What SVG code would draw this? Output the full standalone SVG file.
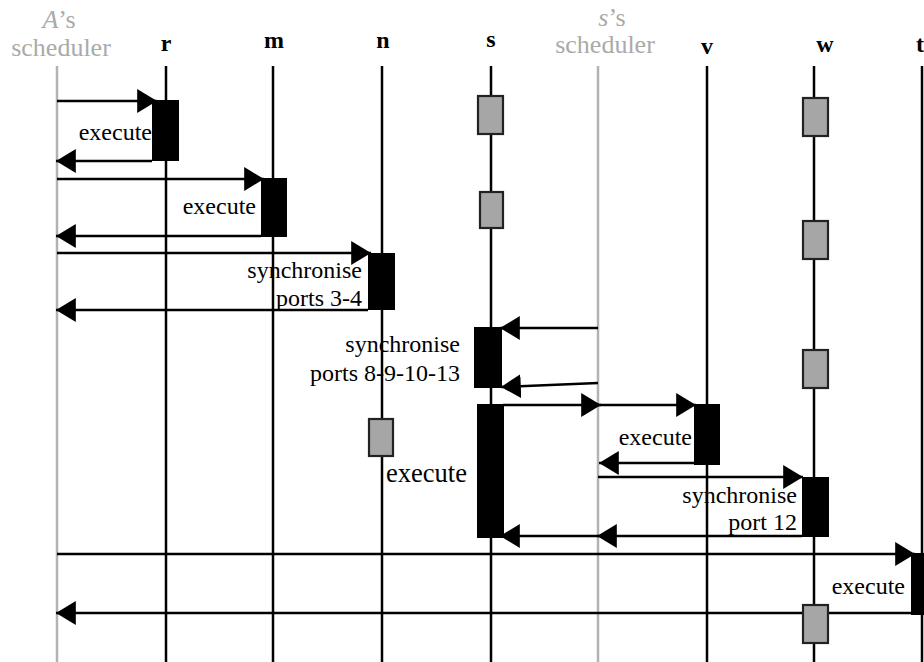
<svg xmlns="http://www.w3.org/2000/svg" width="924" height="662" viewBox="0 0 924 662">
<style>
.ll{stroke:#000;stroke-width:2.5;fill:none}
.gl{stroke:#b3b3b3;stroke-width:2.5;fill:none}
text{font-family:'Liberation Serif','Times New Roman',serif}
.hd{font-size:24px;font-weight:bold;fill:#000;text-anchor:middle}
.gh{font-size:26px;fill:#aaaaaa;text-anchor:middle}
.lb{font-size:24px;fill:#000;text-anchor:end}
.act{fill:#000}
.st{fill:#a6a6a6;stroke:#222;stroke-width:2.2}
.cn line{stroke:#000;stroke-width:2.5;marker-end:url(#ah)}
</style>
<defs>
<marker id="ah" markerUnits="userSpaceOnUse" markerWidth="20" markerHeight="24" refX="19" refY="11.5" orient="auto" viewBox="0 0 19 23">
<path d="M0,0 L19,11.5 L0,23 z" fill="#000"/>
</marker>
</defs>
<rect width="924" height="662" fill="#fff"/>

<g id="lifeline-A-scheduler">
<line class="gl" x1="57" y1="66" x2="57" y2="662"/>
<text class="gh" x="59" y="28"><tspan font-style="italic">A</tspan>’s</text>
<text class="gh" x="61" y="56">scheduler</text>
</g>
<g id="lifeline-r">
<line class="ll" x1="166" y1="66" x2="166" y2="662"/>
<text class="hd" x="166" y="51">r</text>
</g>
<g id="lifeline-m">
<line class="ll" x1="273" y1="66" x2="273" y2="662"/>
<text class="hd" x="274" y="48">m</text>
</g>
<g id="lifeline-n">
<line class="ll" x1="382" y1="66" x2="382" y2="662"/>
<text class="hd" x="383" y="48">n</text>
</g>
<g id="lifeline-s">
<line class="ll" x1="491" y1="66" x2="491" y2="662"/>
<text class="hd" x="491" y="47">s</text>
</g>
<g id="lifeline-s-scheduler">
<line class="gl" x1="598" y1="66" x2="598" y2="662"/>
<text class="gh" x="612" y="26"><tspan font-style="italic">s</tspan>’s</text>
<text class="gh" x="605" y="53">scheduler</text>
</g>
<g id="lifeline-v">
<line class="ll" x1="707" y1="66" x2="707" y2="662"/>
<text class="hd" x="707" y="54">v</text>
</g>
<g id="lifeline-w">
<line class="ll" x1="814" y1="66" x2="814" y2="662"/>
<text class="hd" x="825" y="52">w</text>
</g>
<g id="lifeline-t">
<line class="ll" x1="922" y1="66" x2="922" y2="662"/>
<text class="hd" x="920" y="52">t</text>
</g>

<g id="connectors" class="cn">
<line x1="57" y1="101" x2="157" y2="101"/>
<line x1="152" y1="161" x2="56" y2="161"/>
<line x1="57" y1="179" x2="264" y2="179"/>
<line x1="261" y1="236" x2="56" y2="236"/>
<line x1="57" y1="253" x2="371" y2="253"/>
<line x1="368" y1="310" x2="56" y2="310"/>
<line x1="598" y1="328" x2="500" y2="328"/>
<line x1="598" y1="383" x2="501" y2="387"/>
<line x1="503" y1="405" x2="601" y2="405"/>
<line x1="598" y1="405" x2="696" y2="405"/>
<line x1="694" y1="463" x2="599" y2="463"/>
<line x1="598" y1="477" x2="803" y2="477"/>
<line x1="802" y1="536" x2="597" y2="536"/>
<line x1="598" y1="536" x2="500" y2="536"/>
<line x1="57" y1="554" x2="915" y2="554"/>
<line x1="911" y1="613" x2="56" y2="613"/>
</g>

<g id="state-boxes">
<rect class="st" x="478" y="96" width="25" height="38"/>
<rect class="st" x="480" y="192" width="23" height="36"/>
<rect class="st" x="803" y="98" width="25" height="38"/>
<rect class="st" x="803" y="221" width="25" height="38"/>
<rect class="st" x="803" y="350" width="25" height="38"/>
<rect class="st" x="369" y="419" width="24" height="37"/>
<rect class="st" x="803" y="605" width="25" height="38"/>
</g>

<g id="act-r-execute">
<rect class="act" x="152" y="100" width="27" height="61"/>
<text class="lb" x="152" y="140">execute</text>
</g>
<g id="act-m-execute">
<rect class="act" x="261" y="178" width="26" height="59"/>
<text class="lb" x="256" y="214">execute</text>
</g>
<g id="act-n-sync">
<rect class="act" x="368" y="253" width="27" height="57"/>
<text class="lb" x="362" y="278">synchronise</text>
<text class="lb" x="362" y="306">ports 3-4</text>
</g>
<g id="act-s-sync">
<rect class="act" x="474" y="327" width="28" height="61"/>
<text class="lb" x="460" y="352">synchronise</text>
<text class="lb" x="460" y="381">ports 8-9-10-13</text>
</g>
<g id="act-s-execute">
<rect class="act" x="477" y="404" width="27" height="134"/>
<text class="lb" x="386" y="482" style="text-anchor:start;font-size:26.5px">execute</text>
</g>
<g id="act-v-execute">
<rect class="act" x="694" y="404" width="26" height="61"/>
<text class="lb" x="692" y="445">execute</text>
</g>
<g id="act-w-sync">
<rect class="act" x="802" y="477" width="27" height="60"/>
<text class="lb" x="797" y="503">synchronise</text>
<text class="lb" x="797" y="530">port 12</text>
</g>
<g id="act-t-execute">
<rect class="act" x="911" y="553" width="27" height="62"/>
<text class="lb" x="905" y="594">execute</text>
</g>
</svg>
